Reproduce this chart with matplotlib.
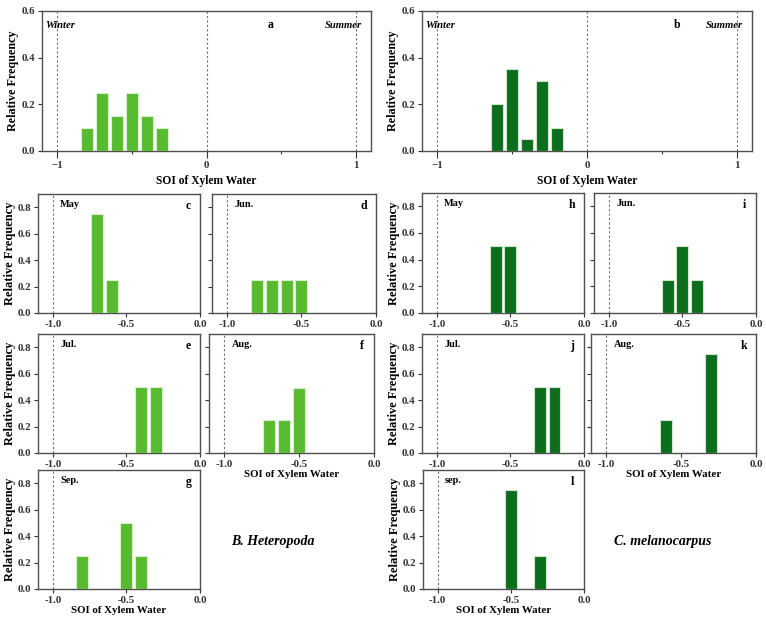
import matplotlib
matplotlib.use("Agg")
import matplotlib.pyplot as plt
from matplotlib.ticker import FixedLocator, FormatStrFormatter

plt.rcParams['font.family'] = ['Liberation Serif', 'DejaVu Serif']
plt.rcParams['font.weight'] = 'bold'
plt.rcParams['axes.labelweight'] = 'bold'
plt.rcParams['axes.unicode_minus'] = True

# ---- data ----
a_x = [-0.8, -0.7, -0.6, -0.5, -0.4, -0.3]
a_y = [0.10, 0.25, 0.15, 0.25, 0.15, 0.10]
b_x = [-0.6, -0.5, -0.4, -0.3, -0.2]
b_y = [0.20, 0.35, 0.05, 0.30, 0.10]

c_x = [-0.7, -0.6]; c_y = [0.75, 0.25]
d_x = [-0.8, -0.7, -0.6, -0.5]; d_y = [0.25, 0.25, 0.25, 0.25]
e_x = [-0.4, -0.3]; e_y = [0.50, 0.50]
f_x = [-0.7, -0.6, -0.5]; f_y = [0.25, 0.25, 0.49]
g_x = [-0.8, -0.5, -0.4]; g_y = [0.25, 0.50, 0.25]

h_x = [-0.6, -0.5]; h_y = [0.50, 0.50]
i_x = [-0.6, -0.5, -0.4]; i_y = [0.25, 0.50, 0.25]
j_x = [-0.3, -0.2]; j_y = [0.50, 0.50]
k_x = [-0.6, -0.3]; k_y = [0.25, 0.75]
l_x = [-0.5, -0.3]; l_y = [0.75, 0.25]

months_left = ['May', 'Jun.', 'Jul.', 'Aug.', 'Sep.']
months_right = ['May', 'Jun.', 'Jul.', 'Aug.', 'sep.']

LIGHT = '#58bb2f'
DARK = '#0b6e1c'
EDGE_L = '#d9f0cf'
EDGE_D = '#cfe3cf'
SPINE = '#505050'
DASH = '#707070'

W, H = 766, 622
fig = plt.figure(figsize=(W / 100, H / 100), dpi=100)


def add_ax(l, r, t, b):
    return fig.add_axes([l / W, (H - b) / H, (r - l) / W, (b - t) / H])


def style(ax):
    for s in ax.spines.values():
        s.set_color(SPINE)
        s.set_linewidth(1.0)
    ax.tick_params(axis='both', which='both', direction='out', colors='#333333',
                   labelsize=7.8, width=0.8, length=3, pad=2)
    for lab in ax.get_xticklabels() + ax.get_yticklabels():
        lab.set_fontweight('bold')


def big(ax, xs, ys, color, edge, letter, letter_x):
    ax.bar(xs, ys, width=0.08, color=color, edgecolor=edge, linewidth=0.8, zorder=3)
    for v in (-1, 0, 1):
        ax.axvline(v, color=DASH, lw=0.8, ls=(0, (2, 2)), zorder=1)
    ax.set_xlim(-1.1, 1.1)
    ax.set_ylim(0, 0.6)
    ax.set_xticks([-1, 0, 1])
    ax.xaxis.set_minor_locator(FixedLocator([-0.5, 0.5]))
    ax.set_yticks([0, 0.2, 0.4, 0.6])
    ax.yaxis.set_major_formatter(FormatStrFormatter('%.1f'))
    style(ax)
    ax.tick_params(axis='x', which='major', length=5)
    ax.tick_params(axis='x', which='minor', length=2.5)
    ax.set_ylabel('Relative Frequency', fontsize=8.7, labelpad=2)
    ax.set_xlabel('SOI of Xylem Water', fontsize=8.3, labelpad=4)
    ax.text(-1.075, 0.54, 'Winter', fontsize=7.7, style='italic', weight='bold',
            ha='left', va='center')
    ax.text(1.04, 0.54, 'Summer', fontsize=7.7, style='italic', weight='bold',
            ha='right', va='center')
    ax.text(letter_x, 0.54, letter, fontsize=8.5, weight='bold', ha='center', va='center')


def small(ax, xs, ys, color, edge, month, letter, ylab=True, xlab=False):
    ax.bar(xs, ys, width=0.08, color=color, edgecolor=edge, linewidth=0.8, zorder=3)
    ax.axvline(-1, color=DASH, lw=0.8, ls=(0, (2, 2)), zorder=1)
    ax.set_xlim(-1.1, 0)
    ax.set_ylim(0, 0.9)
    ax.set_xticks([-1.0, -0.5, 0.0])
    ax.xaxis.set_major_formatter(FormatStrFormatter('%.1f'))
    ax.set_yticks([0, 0.2, 0.4, 0.6, 0.8])
    ax.yaxis.set_major_formatter(FormatStrFormatter('%.1f'))
    style(ax)
    if ylab:
        ax.set_ylabel('Relative Frequency', fontsize=9, labelpad=1)
    else:
        ax.tick_params(axis='y', labelleft=False)
    if xlab:
        ax.set_xlabel('SOI of Xylem Water', fontsize=7.8, labelpad=1)
    ax.text(-0.95, 0.82, month, fontsize=7.4, weight='bold', ha='left', va='center')
    ax.text(-0.08, 0.81, letter, fontsize=8.5, weight='bold', ha='center', va='center')


ax_a = add_ax(42, 371, 11, 151)
big(ax_a, a_x, a_y, LIGHT, EDGE_L, 'a', 0.43)
ax_b = add_ax(422, 752, 11, 151)
big(ax_b, b_x, b_y, DARK, EDGE_D, 'b', 0.60)

# left (B. Heteropoda)
ax_c = add_ax(38, 200, 194, 313)
small(ax_c, c_x, c_y, LIGHT, EDGE_L, months_left[0], 'c')
ax_d = add_ax(212, 376, 194, 313)
small(ax_d, d_x, d_y, LIGHT, EDGE_L, months_left[1], 'd', ylab=False)
ax_e = add_ax(38, 200, 334, 453)
small(ax_e, e_x, e_y, LIGHT, EDGE_L, months_left[2], 'e')
ax_f = add_ax(209, 374, 334, 453)
small(ax_f, f_x, f_y, LIGHT, EDGE_L, months_left[3], 'f', ylab=False, xlab=True)
ax_g = add_ax(38, 200, 470, 589)
small(ax_g, g_x, g_y, LIGHT, EDGE_L, months_left[4], 'g', xlab=True)

# right (C. melanocarpus)
ax_h = add_ax(422, 584, 193, 313)
small(ax_h, h_x, h_y, DARK, EDGE_D, months_right[0], 'h')
ax_i = add_ax(594, 756, 193, 313)
small(ax_i, i_x, i_y, DARK, EDGE_D, months_right[1], 'i', ylab=False)
ax_j = add_ax(422, 584, 334, 453)
small(ax_j, j_x, j_y, DARK, EDGE_D, months_right[2], 'j')
ax_k = add_ax(591, 756, 334, 453)
small(ax_k, k_x, k_y, DARK, EDGE_D, months_right[3], 'k', ylab=False, xlab=True)
ax_l = add_ax(423, 584, 470, 589)
small(ax_l, l_x, l_y, DARK, EDGE_D, months_right[4], 'l', xlab=True)

fig.text(273 / W, 1 - 541 / H, 'B. Heteropoda', fontsize=10, style='italic',
         weight='bold', ha='center', va='center')
fig.text(663 / W, 1 - 541 / H, 'C. melanocarpus', fontsize=10, style='italic',
         weight='bold', ha='center', va='center')

fig.savefig('out.png', dpi=100)
